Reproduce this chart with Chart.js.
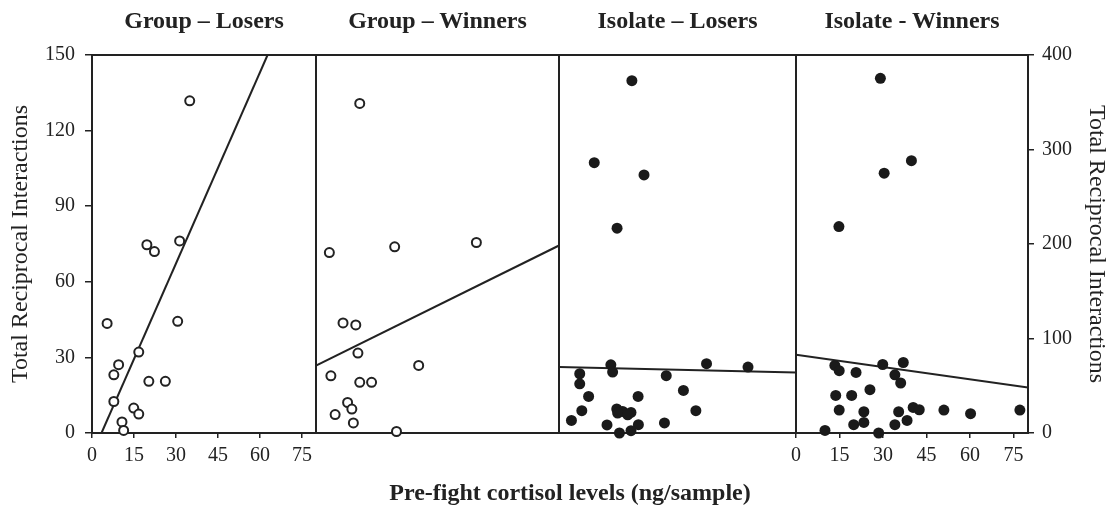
<!DOCTYPE html>
<html>
<head>
<meta charset="utf-8">
<script src="https://cdn.jsdelivr.net/npm/chart.js@4.4.1/dist/chart.umd.min.js"></script>
<style>
  html, body { margin: 0; padding: 0; background: #fff; }
  #wrap { position: relative; width: 1112px; height: 506px; overflow: hidden; }
  #wrap canvas { position: absolute; left: 0; top: 0; }
  .ptitle, #xtitle {
    position: absolute; transform: translateX(-50%); white-space: nowrap;
    font: bold 24px/24px "Liberation Serif", serif; color: #222;
  }
  .ptitle { top: 8px; }
  #xtitle { top: 480px; left: 570px; }
</style>
</head>
<body>
<div id="wrap">
  <canvas id="c0" width="1112" height="506"></canvas>
  <canvas id="c1" width="1112" height="506"></canvas>
  <canvas id="c2" width="1112" height="506"></canvas>
  <canvas id="c3" width="1112" height="506"></canvas>
  <div id="xtitle">Pre-fight cortisol levels (ng/sample)</div>
</div>
<script>
// panel names
const panelTitles = ['Group – Losers', 'Group – Winners', 'Isolate – Losers', 'Isolate - Winners'];

// tick values
const xTicks = [0, 15, 30, 45, 60, 75];
const yTicksLeft = [0, 30, 60, 90, 120, 150];
const yTicksRight = [0, 100, 200, 300, 400];

// Group - Losers (open circles, left axis)
const groupLosersX = [34.9, 19.6, 22.3, 31.3, 5.4, 30.6, 16.7, 9.5, 7.8, 20.3, 26.2, 7.8, 14.9, 16.7, 10.7, 11.3];
const groupLosersY = [131.8, 74.7, 72.0, 76.2, 43.5, 44.3, 32.1, 27.1, 23.1, 20.5, 20.5, 12.5, 9.9, 7.5, 4.4, 1.0];
const groupLosersFitX = [3.4, 62.7];
const groupLosersFitY = [0, 150];

// Group - Winners (open circles, left axis)
const groupWinnersX = [14.4, 4.4, 25.9, 52.8, 8.9, 13.1, 13.8, 4.9, 33.8, 14.4, 18.3, 10.4, 11.8, 6.3, 12.3, 26.5];
const groupWinnersY = [130.8, 71.6, 73.9, 75.6, 43.7, 42.9, 31.7, 22.7, 26.8, 20.1, 20.1, 12.1, 9.5, 7.3, 4.0, 0.6];
const groupWinnersFitX = [0, 80];
const groupWinnersFitY = [26.7, 74.4];

// Isolate - Losers (filled dots, right axis)
const isolateLosersX = [24.6, 11.9, 28.7, 19.6, 17.5, 18.1, 49.8, 63.8, 7.0, 7.0, 36.2, 10.0, 26.7, 42.0, 7.7, 19.5, 21.5, 24.3, 19.8, 23.2, 46.2, 4.2, 16.2, 26.8, 35.6, 20.4, 24.3];
const isolateLosersY = [372.8, 286.1, 273.1, 216.7, 72.2, 64.5, 73.3, 69.8, 62.7, 52.1, 60.6, 38.7, 38.7, 45.0, 23.6, 25.4, 22.8, 21.8, 21.1, 19.3, 23.6, 13.3, 8.5, 8.8, 10.6, 0, 2.4];
const isolateLosersFitX = [0, 80];
const isolateLosersFitY = [69.8, 64.1];

// Isolate - Winners (filled dots, right axis)
const isolateWinnersX = [29.1, 39.8, 30.4, 14.8, 13.4, 14.9, 20.7, 29.9, 37.0, 34.1, 36.1, 25.5, 13.7, 19.2, 14.9, 23.4, 35.4, 40.4, 42.5, 51.0, 60.2, 77.2, 38.3, 19.9, 23.4, 34.1, 10.0, 28.5];
const isolateWinnersY = [375.3, 288.2, 274.9, 218.4, 71.5, 65.9, 64.1, 72.5, 74.6, 61.6, 52.9, 45.8, 39.8, 39.8, 24.3, 22.5, 22.5, 27.1, 24.6, 24.3, 20.4, 24.3, 13.3, 8.8, 11.2, 8.8, 2.7, 0];
const isolateWinnersFitX = [0, 80];
const isolateWinnersFitY = [82.8, 48.2];

// layout
const W = 1112, H = 506, TOP = 55, BOTTOM = 433;
const panelEdges = [92, 316, 559, 796, 1028];
const ink = '#222';
const serif = "'Liberation Serif', 'Times New Roman', serif";
const tickFont = { family: serif, size: 20 };
const axisTitleFont = { family: serif, size: 24 };

const toPoints = (xs, ys) => xs.map((x, i) => ({ x: x, y: ys[i] }));
const setTicks = vals => scale => { scale.ticks = vals.map(v => ({ value: v })); };

// frame around each panel
const boxPlugin = {
  id: 'panelBox',
  beforeDatasetsDraw(chart) {
    const { ctx, chartArea: a } = chart;
    ctx.save();
    ctx.strokeStyle = ink;
    ctx.lineWidth = 2;
    ctx.strokeRect(a.left, a.top, a.right - a.left, a.bottom - a.top);
    ctx.restore();
  }
};

function xAxis(show) {
  if (!show) return { type: 'linear', min: 0, max: 80, display: false };
  return {
    type: 'linear', min: 0, max: 80, position: 'bottom',
    afterBuildTicks: setTicks(xTicks),
    ticks: { font: tickFont, color: ink, padding: 6, maxRotation: 0 },
    grid: { drawOnChartArea: false, tickLength: 5, color: ink, lineWidth: 1.5 },
    border: { display: false },
    afterFit: s => { s.height = 40; }
  };
}

function yAxis(max, side, ticks, width) {
  if (!side) return { type: 'linear', min: 0, max: max, display: false };
  return {
    type: 'linear', min: 0, max: max, position: side,
    afterBuildTicks: setTicks(ticks),
    ticks: { font: tickFont, color: ink, padding: side === 'left' ? 10 : 8 },
    grid: { drawOnChartArea: false, tickLength: side === 'left' ? 7 : 6, color: ink, lineWidth: 1.5 },
    border: { display: false },
    title: {
      display: true, text: 'Total Reciprocal Interactions', font: axisTitleFont, color: ink,
      padding: { top: side === 'left' ? 6 : 1, bottom: 0 }
    },
    afterFit: s => { s.width = width; }
  };
}

function makePanel(i, xs, ys, fitX, fitY, filled, yMax, ySide, yTicks) {
  const left = panelEdges[i], right = panelEdges[i + 1];
  const showX = i === 0 || i === 3;
  const yWidth = ySide === 'left' ? left : (ySide === 'right' ? W - right : 0);
  const chart = new Chart(document.getElementById('c' + i), {
    type: 'scatter',
    data: {
      datasets: [
        {
          data: toPoints(xs, ys),
          pointStyle: 'circle',
          pointRadius: filled ? 5.5 : 4.5,
          pointBorderWidth: filled ? 0 : 2,
          pointBorderColor: ink,
          pointBackgroundColor: filled ? '#1a1a1a' : '#fff',
          clip: false
        },
        {
          type: 'line',
          data: toPoints(fitX, fitY),
          borderColor: ink,
          borderWidth: 2,
          pointRadius: 0,
          fill: false
        }
      ]
    },
    options: {
      responsive: false,
      animation: false,
      layout: {
        padding: {
          top: TOP,
          left: ySide === 'left' ? 0 : left,
          right: ySide === 'right' ? 0 : W - right,
          bottom: showX ? H - BOTTOM - 40 : H - BOTTOM
        }
      },
      plugins: { legend: { display: false }, tooltip: { enabled: false } },
      scales: {
        x: xAxis(showX),
        y: yAxis(yMax, ySide, yTicks, yWidth)
      }
    },
    plugins: [boxPlugin]
  });

  // panel heading centred over the plot area
  const t = document.createElement('div');
  t.className = 'ptitle';
  t.textContent = panelTitles[i];
  t.style.left = ((chart.chartArea.left + chart.chartArea.right) / 2) + 'px';
  document.getElementById('wrap').appendChild(t);
  return chart;
}

makePanel(0, groupLosersX, groupLosersY, groupLosersFitX, groupLosersFitY, false, 150, 'left', yTicksLeft);
makePanel(1, groupWinnersX, groupWinnersY, groupWinnersFitX, groupWinnersFitY, false, 150, null, null);
makePanel(2, isolateLosersX, isolateLosersY, isolateLosersFitX, isolateLosersFitY, true, 400, null, null);
makePanel(3, isolateWinnersX, isolateWinnersY, isolateWinnersFitX, isolateWinnersFitY, true, 400, 'right', yTicksRight);
</script>
</body>
</html>
